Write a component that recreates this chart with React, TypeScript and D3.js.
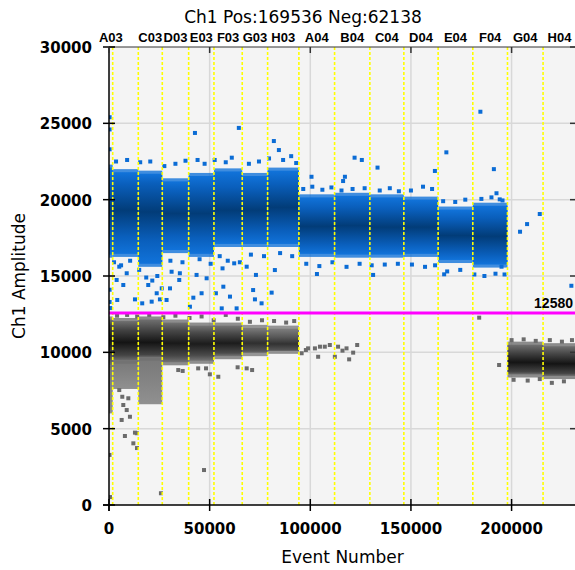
import * as d3 from "d3";

const W = 575;
const H = 570;
const M = { left: 109, right: 576, top: 47, bottom: 505 };

const title = "Ch1 Pos:169536 Neg:62138";
const threshold = 12580;
const eventMax = 232000;
const ampMax = 30000;

// wells in acquisition order and the event number at which each one starts
const wells = ["A03", "B03", "C03", "D03", "E03", "F03", "G03", "H03", "A04", "B04", "C04", "D04", "E04", "F04", "G04", "H04"];
const wellStart = [0, 1837, 14548, 26465, 39573, 52135, 66186, 78798, 94340, 112066, 129593, 146475, 163506, 180735, 197964, 215640];

// positive cluster per well: upper edge, lower edge, densest amplitude
const posHi = [22100, 21800, 21700, 21200, 21550, 21850, 21550, 21900, 20150, 20250, 20150, 20000, 19350, 19600, null, null];
const posLo = [16400, 16450, 15800, 16700, 16450, 17100, 17100, 17100, 16450, 16400, 16400, 16450, 16050, 15750, null, null];
const posCore = [19300, 19300, 19200, 19100, 19100, 19300, 19300, 19500, 18250, 18300, 18200, 18200, 17650, 17600, null, null];

// negative cluster per well: upper edge, lower edge, densest amplitude, low tail, relative density
const negHi = [12150, 12050, 12150, 11950, 11750, 11750, 11600, 11550, null, null, null, null, null, null, 10500, 10400];
const negLo = [9150, 9450, 9650, 9350, 9450, 9750, 9950, 10100, null, null, null, null, null, null, 8550, 8450];
const negCore = [10800, 10650, 10650, 10600, 10550, 10600, 10600, 10550, null, null, null, null, null, null, 9350, 9250];
const negTail = [6000, 7600, 6600, null, null, null, null, null, null, null, null, null, null, null, null, null];
const negDensity = [1, 1, 1, 0.9, 0.85, 0.85, 0.5, 0.45, 0, 0, 0, 0, 0, 0, 1, 1];

// scattered droplets [event, amplitude]
const posOutliers: [number, number][] = [
  [300, 25400], [300, 24600], [300, 23300], [300, 14100], [300, 13300], [600, 12900],
  [42700, 24370], [64500, 24700], [44000, 22600], [81900, 23840], [84400, 23250],
  [100600, 21500], [103300, 15130], [184500, 25760], [167600, 23100], [122000, 22750],
  [125600, 22600], [133400, 22100], [117200, 21500], [116300, 21220], [161900, 21880],
  [191200, 22000], [192500, 20420], [194100, 20020], [204200, 17900], [207700, 18400],
  [214000, 19060], [229700, 14360], [131200, 15070], [166500, 15110], [195000, 15610],
  [7100, 14410], [4100, 13430], [12900, 13470], [16500, 13210], [21200, 13320],
  [25300, 13470], [28600, 13430], [30300, 14190], [19500, 14410], [35200, 15180],
  [41900, 13580], [46000, 13870], [43500, 15070], [48500, 14850], [53100, 13870],
  [56800, 14300], [60100, 13650], [62200, 15830], [71600, 14080], [72500, 13470],
  [75800, 13210], [80800, 13910], [82400, 15390], [73000, 15070], [68400, 15610],
  [56400, 15500], [31100, 15280], [26200, 14190], [34900, 14740], [8800, 15180],
  [5100, 15610], [3800, 14740], [23700, 13870], [40200, 12990], [63400, 12880], [56000, 12880],
  [3500, 22500], [9000, 22600], [15500, 22450], [20500, 22500], [27500, 22200], [33000, 22350],
  [38000, 22550], [47500, 22350], [52500, 22600], [58000, 22450], [61000, 22750], [69500, 22350],
  [74500, 22500], [79500, 22700], [86500, 22600], [90500, 22850], [93000, 22400],
  [2500, 15900], [6000, 15700], [10500, 16000], [15000, 15400], [18500, 14900], [21500, 14700],
  [24000, 15000], [30500, 16000], [36500, 15900], [45000, 16100], [50500, 15800], [55000, 16300],
  [59000, 16000], [65000, 15900], [70500, 16400], [77000, 16300], [85000, 16500], [91000, 16300],
  [96500, 20700], [101000, 20850], [106000, 20650], [110500, 20800], [115500, 20600], [121000, 20700],
  [127000, 20750], [134500, 20600], [139500, 20750], [144000, 20550], [150000, 20600], [156000, 20850],
  [160500, 20700], [166000, 19900], [172000, 19850], [177000, 20000], [185000, 20050], [190000, 20150],
  [195500, 19950],
  [98000, 15800], [104500, 15650], [111000, 15900], [118000, 15600], [124500, 15800], [130500, 15700],
  [137000, 15750], [143500, 15800], [150500, 15750], [157000, 15600], [162000, 15700], [168000, 15300],
  [174500, 15400], [181500, 15100], [186500, 15000], [192000, 15150], [196500, 15100],
];

const negOutliers: [number, number][] = [
  [95700, 9940], [97800, 10150], [98900, 10260], [102300, 10260], [103900, 9710], [104800, 10370],
  [107200, 10370], [109700, 10480], [112200, 9710], [113800, 10370], [116000, 10110], [118000, 10260],
  [119300, 9540], [121300, 9980], [123300, 10480], [183900, 12270], [193800, 9170],
  [34400, 8840], [36600, 8780], [44300, 8950], [48200, 8950], [50100, 8560], [54300, 8400],
  [63900, 9020], [68400, 8950], [71100, 8840], [47200, 2290], [25800, 770],
  [7900, 4520], [12100, 4040], [12900, 4740], [10400, 5780], [8800, 6220], [7100, 6550],
  [6600, 7090], [5100, 7530], [9600, 6990], [6300, 5570], [250, 3280], [500, 520],
  [13900, 3730], [13800, 4700],
  [4000, 12400], [9000, 12450], [14000, 12350], [20000, 12450], [27000, 12300], [33000, 12400],
  [40000, 12250], [46000, 12350], [52000, 12100], [58000, 12450], [64000, 12200], [70000, 12000],
  [76000, 12100], [82000, 12050], [88000, 11950], [92000, 12050],
  [200000, 10800], [206000, 10850], [212000, 10750], [219000, 10800], [225000, 10700], [230000, 10800],
  [201000, 8200], [208000, 8150], [214000, 8250], [220000, 8000], [226000, 8100],
];

const xTicks = [0, 50000, 100000, 150000, 200000];
const yTicks = [0, 5000, 10000, 15000, 20000, 25000, 30000];

const x = d3.scaleLinear().domain([0, eventMax]).range([M.left, M.right]);
const y = d3.scaleLinear().domain([0, ampMax]).range([M.bottom, M.top]);

const POS = { edge: "#1173da", mid: "#0a5fbc", core: "#023c78" };
const NEG_DENSE = { edge: "#707070", mid: "#444444", core: "#141414" };
const NEG_SPARSE = { edge: "#8a8a8a", mid: "#6a6a6a", core: "#4a4a4a" };

const clampOff = (v: number) => Math.max(0, Math.min(1, v));

function stops(hi: number, lo: number, core: number, c: { edge: string; mid: string; core: string }) {
  const o = (hi - core) / (hi - lo);
  return [
    { off: 0, col: c.edge },
    { off: clampOff(o - 0.32), col: c.mid },
    { off: clampOff(o), col: c.core },
    { off: clampOff(o + 0.32), col: c.mid },
    { off: 1, col: c.edge },
  ];
}

export default function App() {
  const wellEnd = wellStart.map((s, i) => (i < wellStart.length - 1 ? wellStart[i + 1] : eventMax));

  // hide well labels that would overlap the previous one
  const labelW = 24;
  let lastRight = -Infinity;
  const labels = wells.map((w, i) => {
    const cx = (x(wellStart[i]) + x(wellEnd[i])) / 2;
    const show = cx - labelW / 2 >= lastRight;
    if (show) lastRight = cx + labelW / 2;
    return { w, cx, show };
  });

  const negPal = (i: number) => {
    const t = Math.min(1, negDensity[i]);
    return {
      edge: d3.interpolateRgb(NEG_SPARSE.edge, NEG_DENSE.edge)(t),
      mid: d3.interpolateRgb(NEG_SPARSE.mid, NEG_DENSE.mid)(t),
      core: d3.interpolateRgb(NEG_SPARSE.core, NEG_DENSE.core)(t),
    };
  };

  const font = "DejaVu Sans, sans-serif";
  const lab = "Liberation Sans, Arial, sans-serif";
  const halo = 200;

  return (
    <svg width={W} height={H} style={{ position: "absolute", left: 0, top: 0, background: "#fff" }}>
      <defs>
        <clipPath id="plot">
          <rect x={M.left} y={M.top} width={M.right - M.left} height={M.bottom - M.top} />
        </clipPath>
        {wells.map((w, i) =>
          posHi[i] == null ? null : (
            <linearGradient key={"pg" + i} id={"pg" + i} gradientUnits="userSpaceOnUse" x1={0} x2={0} y1={y(posHi[i]!)} y2={y(posLo[i]!)}>
              {stops(posHi[i]!, posLo[i]!, posCore[i]!, POS).map((s, k) => (
                <stop key={k} offset={s.off} stopColor={s.col} />
              ))}
            </linearGradient>
          )
        )}
        {wells.map((w, i) =>
          negHi[i] == null ? null : (
            <linearGradient key={"ng" + i} id={"ng" + i} gradientUnits="userSpaceOnUse" x1={0} x2={0} y1={y(negHi[i]!)} y2={y(negLo[i]!)}>
              {stops(negHi[i]!, negLo[i]!, negCore[i]!, negPal(i)).map((s, k) => (
                <stop key={k} offset={s.off} stopColor={s.col} />
              ))}
            </linearGradient>
          )
        )}
        <linearGradient id="tail" x1={0} x2={0} y1={0} y2={1}>
          <stop offset={0} stopColor="#6a6a6a" />
          <stop offset={1} stopColor="#858585" />
        </linearGradient>
      </defs>

      {/* plot background and grid */}
      <rect x={M.left} y={M.top} width={M.right - M.left} height={M.bottom - M.top} fill="#f4f4f4" />
      {xTicks.slice(1).map((t) => (
        <line key={"gx" + t} x1={x(t)} x2={x(t)} y1={M.top} y2={M.bottom} stroke="#d8d8d8" strokeWidth={1.5} />
      ))}
      {yTicks.slice(1, -1).map((t) => (
        <line key={"gy" + t} x1={M.left} x2={M.right} y1={y(t)} y2={y(t)} stroke="#d8d8d8" strokeWidth={1.5} />
      ))}

      <g clipPath="url(#plot)">
        {/* negative droplets */}
        {wells.map((w, i) =>
          negTail[i] == null ? null : (
            <rect key={"nt" + i} x={x(wellStart[i])} width={x(wellEnd[i]) - x(wellStart[i])} y={y(negLo[i]!)} height={y(negTail[i]!) - y(negLo[i]!)} fill="url(#tail)" opacity={0.9} />
          )
        )}
        {wells.map((w, i) =>
          negHi[i] == null ? null : (
            <g key={"n" + i}>
              <rect x={x(wellStart[i])} width={x(wellEnd[i]) - x(wellStart[i])} y={y(negHi[i]! + halo)} height={y(negLo[i]! - halo) - y(negHi[i]! + halo)} fill={negPal(i).edge} opacity={0.8} />
              <rect x={x(wellStart[i])} width={x(wellEnd[i]) - x(wellStart[i])} y={y(negHi[i]!)} height={y(negLo[i]!) - y(negHi[i]!)} fill={`url(#ng${i})`} />
            </g>
          )
        )}
        {negOutliers.map(([e, a], k) => (
          <rect key={"no" + k} x={x(e) - 2} y={y(a) - 2} width={4} height={4} fill="#6b6b6b" />
        ))}

        {/* positive droplets */}
        {wells.map((w, i) =>
          posHi[i] == null ? null : (
            <g key={"p" + i}>
              <rect x={x(wellStart[i])} width={x(wellEnd[i]) - x(wellStart[i])} y={y(posHi[i]! + halo)} height={y(posLo[i]! - halo) - y(posHi[i]! + halo)} fill={POS.edge} opacity={0.8} />
              <rect x={x(wellStart[i])} width={x(wellEnd[i]) - x(wellStart[i])} y={y(posHi[i]!)} height={y(posLo[i]!) - y(posHi[i]!)} fill={`url(#pg${i})`} />
            </g>
          )
        )}
        {posOutliers.map(([e, a], k) => (
          <rect key={"po" + k} x={x(e) - 2} y={y(a) - 2} width={4} height={4} fill="#0b6cd5" />
        ))}

        {/* well boundaries */}
        {wellStart.slice(1).map((s) => (
          <line key={"wb" + s} x1={x(s)} x2={x(s)} y1={M.top} y2={M.bottom} stroke="#ffff00" strokeWidth={1.6} strokeDasharray="3,2" />
        ))}

        {/* threshold */}
        <line x1={M.left} x2={M.right} y1={y(threshold)} y2={y(threshold)} stroke="#ff00ff" strokeWidth={3} />
      </g>
      <text x={573} y={y(threshold) - 5} textAnchor="end" fontFamily={lab} fontWeight="bold" fontSize={14} fill="#000">
        {threshold}
      </text>

      {/* frame and axes */}
      <line x1={M.left} x2={M.right} y1={M.top} y2={M.top} stroke="#333" strokeWidth={1} />
      <line x1={M.right} x2={M.right} y1={M.top} y2={M.bottom} stroke="#333" strokeWidth={1} />
      <line x1={M.left} x2={M.left} y1={M.top} y2={M.bottom + 6} stroke="#000" strokeWidth={1.5} />
      <line x1={M.left - 6} x2={M.right} y1={M.bottom} y2={M.bottom} stroke="#000" strokeWidth={1.5} />
      {yTicks.map((t) => (
        <g key={"yt" + t}>
          <line x1={M.left - 6} x2={M.left + 6} y1={y(t)} y2={y(t)} stroke="#000" strokeWidth={1.5} />
          <line x1={M.right - 6} x2={M.right} y1={y(t)} y2={y(t)} stroke="#333" strokeWidth={1.5} />
          <text x={92} y={y(t) + 1} textAnchor="end" dominantBaseline="central" fontFamily={font} fontWeight="bold" fontSize={15} fill="#000">
            {t}
          </text>
        </g>
      ))}
      {xTicks.map((t) => (
        <g key={"xt" + t}>
          <line x1={x(t)} x2={x(t)} y1={M.bottom - 6} y2={M.bottom + 6} stroke="#000" strokeWidth={1.5} />
          <line x1={x(t)} x2={x(t)} y1={M.top} y2={M.top + 6} stroke="#333" strokeWidth={1.5} />
          <text x={x(t)} y={534} textAnchor="middle" fontFamily={font} fontWeight="bold" fontSize={15} fill="#000">
            {t}
          </text>
        </g>
      ))}

      {/* well labels */}
      {labels.map((l) =>
        l.show ? (
          <text key={"wl" + l.w} x={l.cx} y={42} textAnchor="middle" fontFamily={lab} fontWeight="bold" fontSize={13} fill="#000">
            {l.w}
          </text>
        ) : null
      )}

      <text x={303} y={23} textAnchor="middle" fontFamily={font} fontSize={17} fill="#000">
        {title}
      </text>
      <text x={(M.left + M.right) / 2} y={563} textAnchor="middle" fontFamily={font} fontSize={17} fill="#000">
        Event Number
      </text>
      <text transform={`translate(25, ${(M.top + M.bottom) / 2}) rotate(-90)`} textAnchor="middle" fontFamily={font} fontSize={17} fill="#000">
        Ch1 Amplitude
      </text>
    </svg>
  );
}
